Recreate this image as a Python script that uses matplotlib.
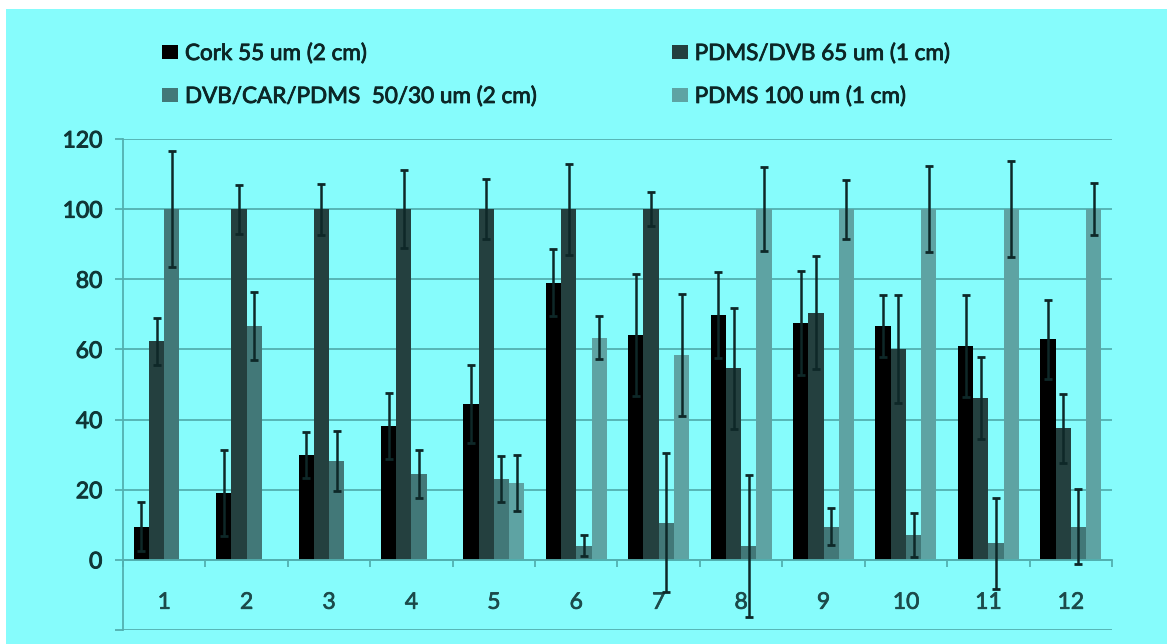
import numpy as np
import matplotlib.pyplot as plt
import matplotlib.patheffects as pe
from matplotlib.patches import Rectangle
from matplotlib.ticker import FixedLocator, NullFormatter

# Sample numbers on the x axis
samples = [str(i) for i in range(1, 13)]

series_names = [
    "Cork 55 um (2 cm)",
    "PDMS/DVB 65 um (1 cm)",
    "DVB/CAR/PDMS  50/30 um (2 cm)",
    "PDMS 100 um (1 cm)",
]

cork = [9.5, 19.0, 29.9, 38.2, 44.4, 79.0, 64.1, 69.8, 67.6, 66.7, 61.0, 62.9]
cork_err = [7.0, 12.3, 6.6, 9.3, 11.2, 9.5, 17.4, 12.2, 14.8, 8.8, 14.5, 11.2]

pdms_dvb = [62.4, 100, 100, 100, 100, 100, 100, 54.6, 70.5, 60.0, 46.1, 37.5]
pdms_dvb_err = [6.7, 7.0, 7.3, 11.2, 8.6, 13.0, 4.8, 17.3, 16.2, 15.4, 11.7, 9.9]

dvb_car_pdms = [100, 66.7, 28.2, 24.4, 23.0, 4.0, 10.6, 4.0, 9.5, 7.1, 4.7, 9.5]
dvb_car_pdms_err = [16.6, 9.6, 8.5, 6.9, 6.5, 3.0, 19.8, 20.3, 5.2, 6.4, 13.0, 10.8]

nan = np.nan
pdms100 = [nan, nan, nan, nan, 22.0, 63.4, 58.4, 100, 100, 100, 100, 100]
pdms100_err = [nan, nan, nan, nan, 8.0, 6.2, 17.5, 12.0, 8.4, 12.2, 13.6, 7.5]

values = [cork, pdms_dvb, dvb_car_pdms, pdms100]
errors = [cork_err, pdms_dvb_err, dvb_car_pdms_err, pdms100_err]
colors = ["#000000", "#24403f", "#427878", "#5ea3a3"]

BG = "#86fcfc"
GRID = "#52b0b0"
TXT = "#103636"

plt.rcParams["font.family"] = ["Lato", "DejaVu Sans"]

fig = plt.figure(figsize=(11.67, 6.44), dpi=100, facecolor="white")
fig.patches.append(Rectangle((6 / 1167, 0), 1, (644 - 9) / 644,
                             transform=fig.transFigure, facecolor=BG,
                             edgecolor="none", zorder=-10))

ax = fig.add_axes([123 / 1167, 14 / 644, 989 / 1167, 491 / 644])
ax.set_facecolor("none")

x = np.arange(1, len(samples) + 1)
width = 0.185
offsets = (np.arange(4) - 1.5) * width

handles = []
for vals, errs, col, off, name in zip(values, errors, colors, offsets, series_names):
    v = np.array(vals, dtype=float)
    e = np.array(errs, dtype=float)
    h = ax.bar(x + off, np.nan_to_num(v), width, color=col, label=name, zorder=2)
    handles.append(h)
    ok = ~np.isnan(v)
    ax.errorbar((x + off)[ok], v[ok], yerr=e[ok], fmt="none", ecolor="#0e2828",
                elinewidth=1.8, capsize=3.2, capthick=2.0, zorder=4)

ax.set_xlim(0.5, 12.5)
ax.set_ylim(-20, 120)

yt = np.arange(-20, 121, 20)
ax.set_yticks(yt)
ax.set_yticklabels(["" if t < 0 else str(t) for t in yt])
ax.yaxis.grid(True, color=GRID, linewidth=1.3, zorder=0)
ax.set_axisbelow(True)

ax.set_xticks(x)
ax.set_xticklabels(samples)
ax.xaxis.set_minor_locator(FixedLocator(np.arange(0.5, 12.6, 1.0)))
ax.xaxis.set_minor_formatter(NullFormatter())

for s in ["top", "right"]:
    ax.spines[s].set_visible(False)
ax.spines["bottom"].set_position(("data", 0))
ax.spines["bottom"].set_color(GRID)
ax.spines["bottom"].set_linewidth(1.3)
ax.spines["left"].set_color(GRID)
ax.spines["left"].set_linewidth(1.3)

ax.tick_params(axis="y", length=6, width=1.3, color=GRID, pad=9,
               labelsize=16.5, labelcolor=TXT)
ax.tick_params(axis="x", which="major", length=0, pad=23,
               labelsize=16.5, labelcolor="#1c4a4a")
ax.tick_params(axis="x", which="minor", length=5, width=1.3, color=GRID)
for lab in ax.get_yticklabels():
    lab.set_path_effects([pe.withStroke(linewidth=0.7, foreground=TXT)])
for lab in ax.get_xticklabels():
    lab.set_path_effects([pe.withStroke(linewidth=0.5, foreground="#1c4a4a")])

order = [0, 2, 1, 3]
leg = fig.legend([handles[i] for i in order], [series_names[i] for i in order],
                 ncol=2, loc="upper left", bbox_to_anchor=(162 / 1167, 1 - 44 / 644),
                 frameon=False, prop={"size": 16.2},
                 handlelength=0.72, handleheight=0.58,
                 handletextpad=0.3, columnspacing=6.0, labelspacing=1.02,
                 borderaxespad=0, borderpad=0)
for t in leg.get_texts():
    t.set_color("#0c2626")
    t.set_path_effects([pe.withStroke(linewidth=0.6, foreground="#0c2626")])

fig.savefig("out.png", dpi=100, facecolor=fig.get_facecolor())
